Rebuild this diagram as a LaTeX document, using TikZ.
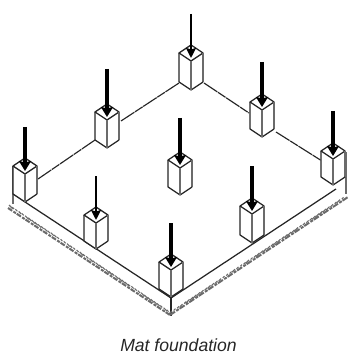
\documentclass[tikz,border=0pt]{standalone}
\usepackage{fontspec}
\setmainfont{Liberation Sans}
\usetikzlibrary{arrows.meta}
\definecolor{ink}{gray}{0.15}
\definecolor{soft}{gray}{0.42}
\tikzset{
  x=1pt,y=-1pt,
  edgeline/.style={draw=ink,line width=1.25pt,line join=round},
  softline/.style={draw=soft,line width=1.2pt},
  beam/.style={draw=ink,line width=1.15pt,dash pattern=on 16pt off 0.8pt on 9pt off 0.8pt},
  hatchmark/.style={draw=soft,line width=1.1pt},
  loadheavy/.style={draw=black,line width=3.4pt,-{Stealth[length=10pt,width=12pt,inset=1.5pt]}},
  loadlight/.style={draw=black,line width=2.2pt,-{Stealth[length=10pt,width=10pt,inset=1.5pt]}},
  caption/.style={font=\fontsize{17.6}{20}\selectfont\itshape,text=black!85,inner sep=0pt}
}
% #1 x, #2 y of rear top corner, #3 height, #4 y of arrow start, #5 arrow style
\newcommand{\pier}[5]{%
  \path[fill=white] (#1-12,#2+8) -- (#1,#2) -- (#1+12,#2+8) -- (#1+12,#2+8+#3) -- (#1,#2+16+#3) -- (#1-12,#2+8+#3) -- cycle;
  \draw[edgeline] (#1-12,#2+8) -- (#1,#2) -- (#1+12,#2+8) -- (#1,#2+16) -- cycle;
  \draw[edgeline] (#1-12,#2+8) -- (#1-12,#2+8+#3) -- (#1,#2+16+#3);
  \draw[softline] (#1+12,#2+8) -- (#1+12,#2+8+#3);
  \draw[edgeline] (#1+12,#2+8+#3) -- (#1,#2+16+#3);
  \draw[softline] (#1,#2+16) -- (#1,#2+16+#3);
  \draw[#5] (#1,#4) -- (#1,#2+13);
}
\begin{document}
\begin{tikzpicture}
\useasboundingbox (0,0) rectangle (348,358);
% beams between the rear piers
\draw[beam] (38,179) -- (95,140);
\draw[beam] (121,121) -- (179,83);
\draw[beam] (204,83) -- (249,113);
\draw[beam] (276,132) -- (322,161);
% mat top edges and thickness
\draw[edgeline] (25,202) -- (171,298) -- (336,189);
\draw[edgeline] (171,298) -- (171,316);
\draw[softline] (13,166) -- (13,204);
\draw[softline] (346,152) -- (346,194);
% hatched ground line
\draw[hatchmark,line width=2pt,dash pattern=on 5pt off 1.5pt on 3pt off 1pt] (8,208) -- (170,315);
\draw[hatchmark,line width=2pt,dash pattern=on 6pt off 1.5pt on 3pt off 1pt] (170,315) -- (348,197);
\pgfmathsetseed{7}
\foreach \t in {0,0.02,...,1}{
  \pgfmathsetmacro{\jit}{1.5+2.5*rnd}
  \draw[hatchmark] ({9+161*\t},{205+107*\t}) -- ++(\jit,\jit);
  \draw[hatchmark] ({172+175*\t},{311-116*\t}) -- ++(-\jit,\jit);
}
% piers
\pier{25}{158}{28}{127}{loadheavy}
\pier{107}{104}{28}{69}{loadheavy}
\pier{191}{45}{29}{14}{loadlight}
\pier{262}{94}{27}{62}{loadheavy}
\pier{333}{143}{26}{111}{loadheavy}
\pier{180}{152}{27}{118}{loadheavy}
\pier{96}{207}{26}{176}{loadlight}
\pier{171}{254}{27}{223}{loadheavy}
\pier{252}{198}{29}{166}{loadheavy}
\node[caption,anchor=center] (cap) at (178.5,345) {Mat foundation};
\end{tikzpicture}
\end{document}
